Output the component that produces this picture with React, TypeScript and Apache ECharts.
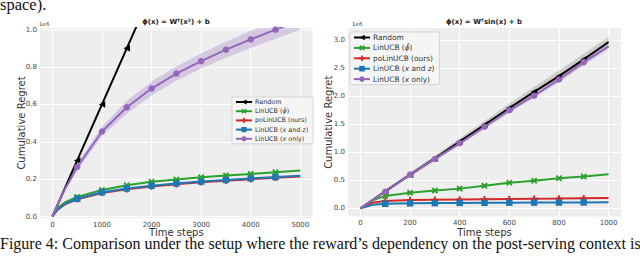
import React, { useEffect, useRef } from "react";
import * as echarts from "echarts";

// ---------- data (values in units of 1e6) ----------
const SERIES_NAMES = ["Random", "LinUCB (ϕ̂)", "poLinUCB (ours)", "LinUCB (x and z)", "LinUCB (x only)"];
const COLORS = ["#000000", "#2ca02c", "#d62728", "#1f77b4", "#9467bd"];

// Left panel: phi(x) = W^T (x^2) + b
const leftSteps = [0, 100, 250, 500, 1000, 1500, 2000, 2500, 3000, 3500, 4000, 4500, 5000];
const leftMarkerSteps = [500, 1000, 1500, 2000, 2500, 3000, 3500, 4000, 4500];
const leftRandom = [0, 0.06, 0.15, 0.3, 0.6, 0.9, 1.2, 1.5, 1.8, 2.1, 2.4, 2.7, 3.0];
const leftLinPhi = [0, 0.045, 0.075, 0.105, 0.142, 0.167, 0.186, 0.198, 0.21, 0.22, 0.228, 0.237, 0.246];
const leftPoLin = [0, 0.035, 0.065, 0.092, 0.126, 0.146, 0.161, 0.173, 0.183, 0.192, 0.2, 0.207, 0.214];
const leftXandZ = [0, 0.037, 0.067, 0.095, 0.13, 0.15, 0.165, 0.177, 0.187, 0.196, 0.204, 0.211, 0.218];
const leftXonly = [0, 0.06, 0.145, 0.265, 0.455, 0.585, 0.685, 0.765, 0.832, 0.893, 0.948, 1.0, 1.05];
const leftXonlyLow = [0, 0.055, 0.135, 0.245, 0.43, 0.55, 0.648, 0.727, 0.792, 0.85, 0.902, 0.952, 1.0];
const leftXonlyHigh = [0, 0.065, 0.155, 0.285, 0.48, 0.62, 0.722, 0.803, 0.872, 0.936, 0.994, 1.048, 1.1];

// Right panel: phi(x) = W^T sin(x) + b
const rightSteps = [0, 50, 100, 200, 300, 400, 500, 600, 700, 800, 900, 1000];
const rightMarkerSteps = [100, 200, 300, 400, 500, 600, 700, 800, 900];
const rightRandom = [0, 0.15, 0.3, 0.6, 0.89, 1.19, 1.49, 1.79, 2.08, 2.36, 2.66, 2.97];
const rightRandomLow = [0, 0.14, 0.28, 0.56, 0.84, 1.13, 1.42, 1.71, 1.99, 2.26, 2.56, 2.87];
const rightRandomHigh = [0, 0.16, 0.32, 0.64, 0.94, 1.25, 1.56, 1.87, 2.17, 2.46, 2.76, 3.07];
const rightLinPhi = [0, 0.14, 0.22, 0.275, 0.315, 0.35, 0.4, 0.455, 0.49, 0.535, 0.565, 0.605];
const rightPoLin = [0, 0.1, 0.13, 0.145, 0.15, 0.155, 0.16, 0.165, 0.17, 0.173, 0.178, 0.182];
const rightXandZ = [0, 0.06, 0.08, 0.088, 0.092, 0.095, 0.097, 0.099, 0.101, 0.102, 0.104, 0.106];
const rightXonly = [0, 0.15, 0.295, 0.6, 0.88, 1.16, 1.455, 1.75, 2.01, 2.3, 2.61, 2.89];
const rightXonlyLow = [0, 0.145, 0.285, 0.58, 0.855, 1.13, 1.42, 1.71, 1.97, 2.25, 2.56, 2.83];
const rightXonlyHigh = [0, 0.155, 0.305, 0.62, 0.905, 1.19, 1.49, 1.79, 2.05, 2.35, 2.66, 2.95];

const leftXTicks = [0, 1000, 2000, 3000, 4000, 5000];
const leftYTicks = [0, 0.2, 0.4, 0.6, 0.8, 1.0];
const rightXTicks = [0, 200, 400, 600, 800, 1000];
const rightYTicks = [0, 0.5, 1.0, 1.5, 2.0, 2.5, 3.0];

// ---------- helpers ----------
const XPATH = "path://M0,2 L2,0 L5,3 L8,0 L10,2 L7,5 L10,8 L8,10 L5,7 L2,10 L0,8 L3,5 Z";
const PPATH = "path://M3.5,0 L6.5,0 L6.5,3.5 L10,3.5 L10,6.5 L6.5,6.5 L6.5,10 L3.5,10 L3.5,6.5 L0,6.5 L0,3.5 L3.5,3.5 Z";
const SYMBOLS = ["triangle", XPATH, PPATH, "rect", "circle"];
const SYMROT = [90, 0, 0, 0, 0];

function buildData(xs: number[], ys: number[], marks: number[]) {
  return xs.map((x, i) => (marks.includes(x) ? { value: [x, ys[i]] } : { value: [x, ys[i]], symbol: "none" }));
}

function lineSeries(idx: number, k: number, xs: number[], ys: number[], marks: number[]) {
  return {
    type: "line",
    name: SERIES_NAMES[k],
    xAxisIndex: idx,
    yAxisIndex: idx,
    data: buildData(xs, ys, marks),
    color: COLORS[k],
    symbol: SYMBOLS[k],
    symbolRotate: SYMROT[k],
    symbolSize: 6.5,
    showAllSymbol: true,
    lineStyle: { width: 2, color: COLORS[k] },
    itemStyle: { color: COLORS[k] },
    z: 3 + k,
  };
}

function bandSeries(idx: number, id: string, xs: number[], lo: number[], hi: number[], color: string) {
  return {
    type: "custom",
    name: id,
    xAxisIndex: idx,
    yAxisIndex: idx,
    data: xs.map((x, i) => [x, lo[i], hi[i]]),
    encode: { x: 0, y: [1, 2] },
    clip: true,
    silent: true,
    z: 1,
    renderItem: (params: any, api: any) => {
      if (params.dataIndex !== 0) return null;
      const pts: number[][] = [];
      for (let i = 0; i < xs.length; i++) pts.push(api.coord([xs[i], hi[i]]));
      for (let i = xs.length - 1; i >= 0; i--) pts.push(api.coord([xs[i], lo[i]]));
      return { type: "polygon", shape: { points: pts }, style: { fill: color } };
    },
  };
}

const legendFormatter = (name: string) => {
  if (name === "LinUCB (x and z)") return "LinUCB ({i|x} and {i|z})";
  if (name === "LinUCB (x only)") return "LinUCB ({i|x} only)";
  if (name === "LinUCB (ϕ̂)") return "LinUCB ({i|ϕ̂})";
  return name;
};

function makeLegend(left: number, top: number, fs: number, ih: number, gap: number) {
  return {
    data: SERIES_NAMES,
    orient: "vertical",
    left,
    top,
    itemWidth: 16,
    itemHeight: ih,
    itemGap: gap,
    padding: [2, 5, 2, 3],
    backgroundColor: "rgba(246,246,246,0.85)",
    borderColor: "#cccccc",
    borderWidth: 0.8,
    borderRadius: 2,
    selectedMode: false,
    formatter: legendFormatter,
    textStyle: {
      fontFamily: "DejaVu Sans",
      fontSize: fs,
      color: "#333",
      padding: [0, 0, 0, -2],
      rich: { i: { fontStyle: "italic", fontSize: fs, fontFamily: "DejaVu Sans", color: "#333" } },
    },
  };
}

function makeXAxis(idx: number, min: number, max: number, ticks: number[], gap: number) {
  return {
    type: "value",
    gridIndex: idx,
    min,
    max,
    axisLine: { show: false },
    axisTick: { show: false, customValues: ticks },
    axisLabel: {
      customValues: ticks,
      fontSize: 7,
      color: "#444",
      margin: 3,
      fontFamily: "DejaVu Sans",
      formatter: (v: number) => String(v),
    },
    splitLine: { show: true, lineStyle: { color: "#ffffff", width: 0.9 } },
    name: "Time steps",
    nameLocation: "middle",
    nameGap: gap,
    nameMoveOverlap: false,
    nameTextStyle: { fontSize: 10, color: "#333", fontFamily: "DejaVu Sans", verticalAlign: "top" },
  };
}

function makeYAxis(idx: number, min: number, max: number, ticks: number[], gap: number) {
  return {
    type: "value",
    gridIndex: idx,
    min,
    max,
    axisLine: { show: false },
    axisTick: { show: false, customValues: ticks },
    axisLabel: {
      customValues: ticks,
      fontSize: 7,
      color: "#444",
      margin: 3,
      fontFamily: "DejaVu Sans",
      formatter: (v: number) => v.toFixed(1),
    },
    splitLine: { show: true, lineStyle: { color: "#ffffff", width: 0.9 } },
    name: "Cumulative Regret",
    nameLocation: "middle",
    nameRotate: 90,
    nameGap: gap,
    nameMoveOverlap: false,
    nameTextStyle: { fontSize: 10, color: "#333", fontFamily: "DejaVu Sans" },
  };
}

export default function App() {
  const ref = useRef<HTMLDivElement>(null);
  useEffect(() => {
    if (!ref.current) return;
    const chart = echarts.init(ref.current, null, { renderer: "svg" });
    const leftData = [leftRandom, leftLinPhi, leftPoLin, leftXandZ, leftXonly];
    const rightData = [rightRandom, rightLinPhi, rightPoLin, rightXandZ, rightXonly];
    const series: any[] = [
      bandSeries(0, "bandL", leftSteps, leftXonlyLow, leftXonlyHigh, "rgba(148,103,189,0.28)"),
      bandSeries(1, "bandRk", rightSteps, rightRandomLow, rightRandomHigh, "rgba(0,0,0,0.14)"),
      bandSeries(1, "bandRp", rightSteps, rightXonlyLow, rightXonlyHigh, "rgba(148,103,189,0.2)"),
    ];
    leftData.forEach((d, k) => series.push(lineSeries(0, k, leftSteps, d, leftMarkerSteps)));
    rightData.forEach((d, k) => series.push(lineSeries(1, k, rightSteps, d, rightMarkerSteps)));

    const option: any = {
      animation: false,
      textStyle: { fontFamily: "DejaVu Sans" },
      title: [
        {
          text: "ϕ(x) = Wᵀ(x²) + b",
          left: 176,
          top: 18.5,
          textAlign: "center",
          padding: 0,
          textStyle: { fontSize: 7, fontWeight: "bold", color: "#222", fontFamily: "DejaVu Sans" },
        },
        {
          text: "ϕ(x) = Wᵀsin(x) + b",
          left: 484,
          top: 18.5,
          textAlign: "center",
          padding: 0,
          textStyle: { fontSize: 7, fontWeight: "bold", color: "#222", fontFamily: "DejaVu Sans" },
        },
      ],
      grid: [
        { left: 40, top: 28, width: 272.7, height: 190, show: true, backgroundColor: "#eeeeee", borderWidth: 0 },
        { left: 348, top: 28, width: 273, height: 188.5, show: true, backgroundColor: "#eeeeee", borderWidth: 0 },
      ],
      xAxis: [makeXAxis(0, -250, 5250, leftXTicks, 9.5), makeXAxis(1, -50, 1050, rightXTicks, 11)],
      yAxis: [makeYAxis(0, -0.008, 1.009, leftYTicks, 14), makeYAxis(1, -0.148, 3.22, rightYTicks, 15)],
      legend: [makeLegend(232, 97, 6.4, 6.5, 3.2), makeLegend(350, 32, 7.4, 7, 3.4)],
      series,
      graphic: [
        { type: "text", x: 39, y: 21, style: { text: "1e6", fontSize: 5.5, fill: "#444", fontFamily: "DejaVu Sans" } },
        { type: "text", x: 352, y: 21, style: { text: "1e6", fontSize: 5.5, fill: "#444", fontFamily: "DejaVu Sans" } },
        {
          type: "text",
          x: 0,
          y: 4.5,
          style: { text: "space).", fontSize: 16.5, fill: "#111", fontFamily: "Liberation Serif", verticalAlign: "middle" },
        },
        {
          type: "text",
          x: 0,
          y: 243.5,
          style: {
            text: "Figure 4: Comparison under the setup where the reward’s dependency on the post-serving context is",
            fontSize: 16,
            fill: "#111",
            fontFamily: "Liberation Serif",
            verticalAlign: "middle",
          },
        },
      ],
    };
    chart.setOption(option);
    return () => chart.dispose();
  }, []);
  return <div ref={ref} style={{ position: "absolute", left: 0, top: 0, width: 640, height: 258 }} />;
}
